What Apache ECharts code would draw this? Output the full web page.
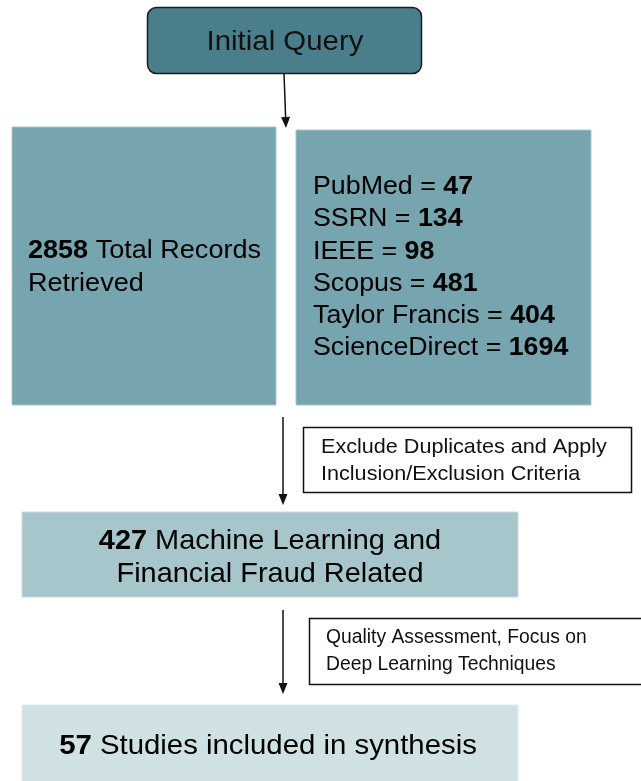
<!DOCTYPE html>
<html>
<head>
<meta charset="utf-8">
<script src="https://cdn.jsdelivr.net/npm/echarts@6/dist/echarts.min.js"></script>
<style>
html,body{margin:0;padding:0;background:#fff;}
#c{width:641px;height:781px;}
</style>
</head>
<body>
<div id="c"></div>
<script>
// ---- data ----
const sourceNames = ['PubMed', 'SSRN', 'IEEE', 'Scopus', 'Taylor Francis', 'ScienceDirect'];
const sourceCounts = [47, 134, 98, 481, 404, 1694];
const totalRecords = 2858;
const stageCounts = [427, 57];
const stageLabels = [['Machine Learning and', 'Financial Fraud Related'], ['Studies included in synthesis']];
const filterLabels = [['Exclude Duplicates and Apply', 'Inclusion/Exclusion Criteria'], ['Quality Assessment, Focus on', 'Deep Learning Techniques']];
const queryLabel = 'Initial Query';

const FONT = '"Liberation Sans", Arial, sans-serif';
const chart = echarts.init(document.getElementById('c'), null, {renderer: 'canvas'});

function arrow(x1, y1, x2, y2) {
  const ang = Math.atan2(y2 - y1, x2 - x1);
  const L = 11, W = 4.5;
  const bx = x2 - L * Math.cos(ang), by = y2 - L * Math.sin(ang);
  const px = -Math.sin(ang) * W, py = Math.cos(ang) * W;
  return [
    {type: 'line', shape: {x1: x1, y1: y1, x2: bx, y2: by}, style: {stroke: '#111', lineWidth: 1.5}},
    {type: 'polygon', shape: {points: [[x2, y2], [bx + px, by + py], [bx - px, by - py]]}, style: {fill: '#111'}}
  ];
}
function richStyles(size, lh) {
  return {
    n: {fontFamily: FONT, fontSize: size, color: '#111', lineHeight: lh},
    b: {fontFamily: FONT, fontSize: size, fontWeight: 'bold', color: '#111', lineHeight: lh}
  };
}

const elements = [];
// Initial query
elements.push({type: 'rect', shape: {x: 147.5, y: 7.5, width: 274, height: 66, r: 9},
  style: {fill: '#4a7e8b', stroke: '#1c1c1c', lineWidth: 1.5}});
elements.push({type: 'text', x: 285, y: 42, scaleX: 1.05, style: {text: queryLabel, fontFamily: FONT, fontSize: 28,
  fill: '#111', align: 'center', verticalAlign: 'middle'}});
elements.push(...arrow(284, 73, 286, 128));

// Left box
elements.push({type: 'rect', shape: {x: 12, y: 127, width: 264, height: 278},
  style: {fill: '#76a5af', stroke: '#a8c8cf', lineWidth: 1}});
elements.push({type: 'text', x: 28, y: 267, scaleX: 1.04, style: {
  text: '{b|' + totalRecords + '}{n| Total Records}\n{n|Retrieved}',
  rich: richStyles(26, 33), align: 'left', verticalAlign: 'middle'}});

// Right box
elements.push({type: 'rect', shape: {x: 296, y: 130, width: 295, height: 275},
  style: {fill: '#76a5af', stroke: '#a8c8cf', lineWidth: 1}});
const srcText = sourceNames.map((s, i) => '{n|' + s + ' = }{b|' + sourceCounts[i] + '}').join('\n');
elements.push({type: 'text', x: 313, y: 267.5, scaleX: 1.03, style: {text: srcText, rich: richStyles(26, 32.3),
  align: 'left', verticalAlign: 'middle'}});

// Arrow 2 + exclude box
elements.push(...arrow(283, 417, 283, 505));
elements.push({type: 'rect', shape: {x: 303.5, y: 427.5, width: 328, height: 65},
  style: {fill: '#fff', stroke: '#111', lineWidth: 1.5}});
elements.push({type: 'text', x: 321, y: 461, scaleX: 1.07, style: {text: filterLabels[0].join('\n'),
  fontFamily: FONT, fontSize: 20.2, lineHeight: 27, fill: '#111', align: 'left', verticalAlign: 'middle'}});

// Middle box
elements.push({type: 'rect', shape: {x: 22, y: 512, width: 496, height: 85},
  style: {fill: '#a6c6cb', stroke: '#c6dadd', lineWidth: 1}});
elements.push({type: 'text', x: 270, y: 557.5, scaleX: 1.04, style: {
  text: '{b|' + stageCounts[0] + '}{n| ' + stageLabels[0][0] + '}\n{n|' + stageLabels[0][1] + '}',
  rich: richStyles(27.8, 33), align: 'center', verticalAlign: 'middle'}});

// Arrow 3 + quality box
elements.push(...arrow(283, 610, 283, 694));
elements.push({type: 'rect', shape: {x: 309.5, y: 618.5, width: 340, height: 66},
  style: {fill: '#fff', stroke: '#111', lineWidth: 1.5}});
elements.push({type: 'text', x: 326, y: 651.5, scaleX: 0.99, style: {text: filterLabels[1].join('\n'),
  fontFamily: FONT, fontSize: 19.5, lineHeight: 27, fill: '#111', align: 'left', verticalAlign: 'middle'}});

// Bottom box
elements.push({type: 'rect', shape: {x: 22, y: 705, width: 496, height: 90},
  style: {fill: '#d0e1e4', stroke: '#e0ecee', lineWidth: 1}});
elements.push({type: 'text', x: 268, y: 746, scaleX: 1.03, style: {
  text: '{b|' + stageCounts[1] + '}{n| ' + stageLabels[1][0] + '}',
  rich: richStyles(28.5, 33), align: 'center', verticalAlign: 'middle'}});

chart.setOption({
  animation: false,
  backgroundColor: '#ffffff',
  graphic: {elements: elements}
});
</script>
</body>
</html>
